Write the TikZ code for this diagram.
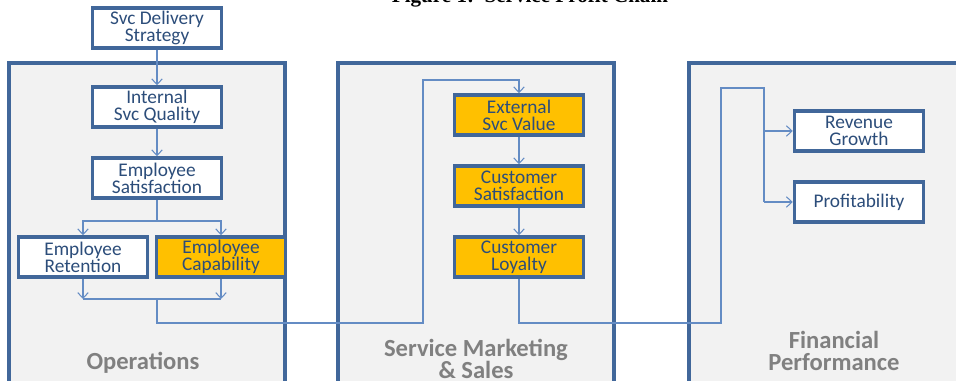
\documentclass[tikz,border=0pt]{standalone}
\usepackage{fontspec}
\setmainfont{Carlito}
\newfontfamily\titlefont{Liberation Serif}
\usetikzlibrary{arrows.meta}
\definecolor{frameblue}{RGB}{65,103,154}
\definecolor{lineblue}{RGB}{100,140,196}
\definecolor{textblue}{RGB}{44,77,122}
\definecolor{panelgray}{RGB}{242,242,242}
\definecolor{boxorange}{RGB}{255,192,0}
\definecolor{labelgray}{RGB}{128,128,128}

\begin{document}
\begin{tikzpicture}[x=0.02cm,y=-0.02cm,
	panel/.style={draw=frameblue,line width=2pt,fill=panelgray},
	chainbox/.style={draw=frameblue,line width=2pt,fill=white,minimum width=2.58cm,minimum height=0.8cm,inner sep=0pt,align=center,text=textblue,font=\fontsize{11}{9.8}\selectfont},
	hot/.style={chainbox,fill=boxorange},
	link/.style={draw=lineblue,line width=0.6pt},
	tip/.style={link,-{Straight Barb[length=3.2pt,width=6pt]}},
	paneltitle/.style={text=labelgray,align=center,font=\bfseries\fontsize{14}{12.8}\selectfont}]
		\useasboundingbox (0,0) rectangle (956,381);
		\node[anchor=base,font=\titlefont\bfseries\fontsize{12}{14}\selectfont] (title) at (530,3) {Figure 1:\ \ Service Profit Chain};
		% the three areas
		\draw[panel] (9,63) rectangle (285,400);
		\draw[panel] (338,63) rectangle (614,400);
		\draw[panel] (689,63) rectangle (975,400);
		\node[paneltitle] (ops) at (143,363) {Operations};
		\node[paneltitle] (marketing) at (476,359) {Service Marketing\\\& Sales};
		\node[paneltitle] (finance) at (834,351) {Financial\\Performance};
		% boxes
		\node[chainbox] (strategy) at (157,28) {Svc Delivery\\Strategy};
		\node[chainbox] (internal) at (157,107) {Internal\\Svc Quality};
		\node[chainbox] (empsat) at (157,178) {Employee\\Satisfaction};
		\node[chainbox] (retention) at (83,257) {Employee\\Retention};
		\node[hot] (capability) at (221,257) {Employee\\Capability};
		\node[hot] (extvalue) at (519,115) {External\\Svc Value};
		\node[hot] (custsat) at (519,186) {Customer\\Satisfaction};
		\node[hot] (loyalty) at (519,257) {Customer\\Loyalty};
		\node[chainbox] (revenue) at (859,131) {Revenue\\Growth};
		\node[chainbox] (profit) at (859,202) {Profitability};
		% operations chain
		\coordinate (split) at (157,221);
		\coordinate (join) at (157,299);
		\draw[tip] (strategy) -- (internal);
		\draw[tip] (internal) -- (empsat);
		\draw[link] (empsat) -- (split);
		\draw[tip] (split) -| (retention);
		\draw[tip] (split) -| (capability);
		\draw[tip] (retention) -- (retention.south |- join);
		\draw[tip] (capability) -- (capability.south |- join);
		\draw[link] (retention.south |- join) -- (capability.south |- join);
		% over to marketing
		\coordinate (opsout) at (423,323);
		\coordinate (mkttop) at (423,80);
		\draw[tip] (join) |- (opsout) -- (mkttop) -| (extvalue);
		\draw[tip] (extvalue) -- (custsat);
		\draw[tip] (custsat) -- (loyalty);
		% over to finance
		\coordinate (mktout) at (721,323);
		\coordinate (fintop) at (721,88);
		\coordinate (trunk) at (764,202);
		\draw[link] (loyalty) |- (mktout) -- (fintop) -| (trunk);
		\draw[tip] (trunk |- revenue) -- (revenue);
		\draw[tip] (trunk) -- (profit);
	\end{tikzpicture}
\end{document}
